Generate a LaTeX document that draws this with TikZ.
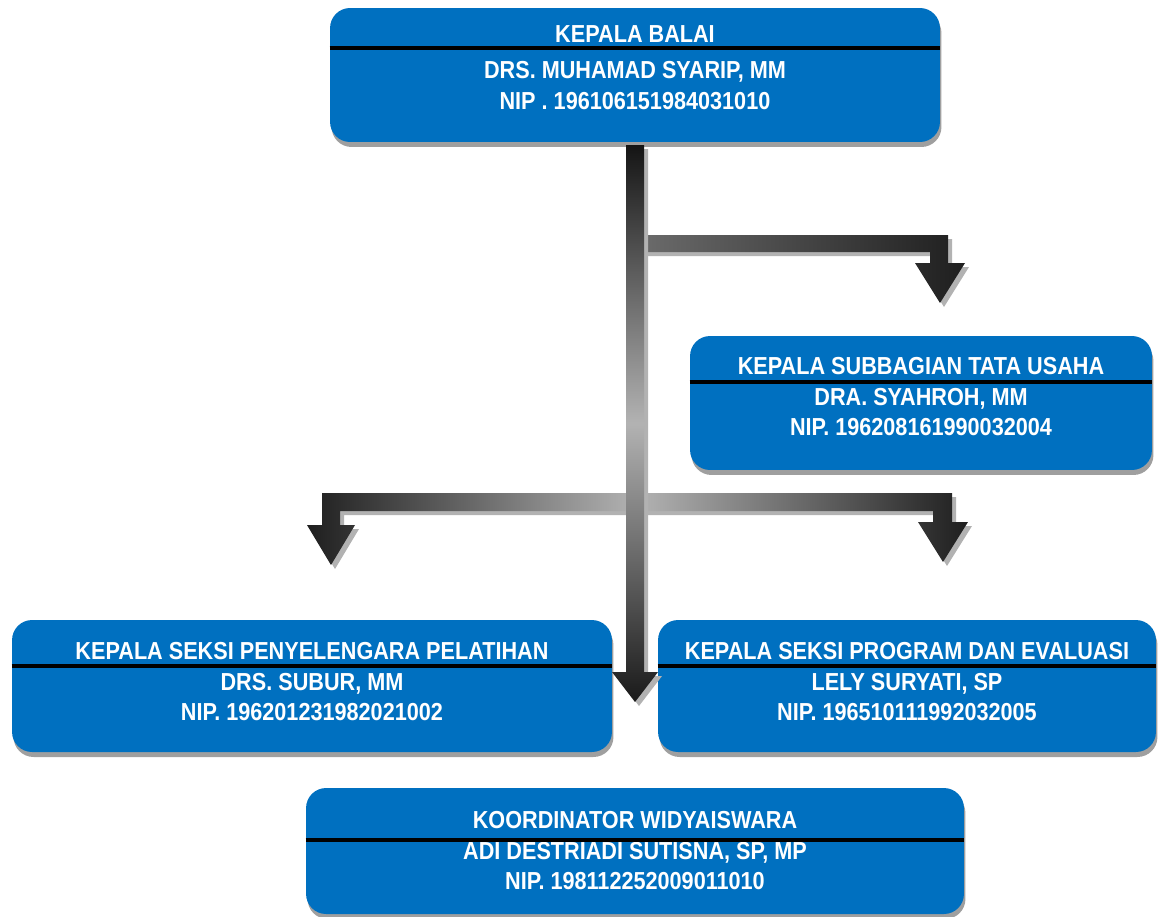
\documentclass[tikz,border=0pt]{standalone}
\usepackage{fontspec}
\newfontfamily\orgfont[FakeStretch=0.88]{Liberation Sans}
\usetikzlibrary{positioning}
\usetikzlibrary{shadows}
\definecolor{balaiblue}{RGB}{0,112,192}
\tikzset{auto, >=latex, font=\orgfont\bfseries\fontsize{14}{17.5}\selectfont}
\tikzstyle{unit} = [draw=none, fill=balaiblue, rectangle, rounded corners=0.4cm, drop shadow={shadow xshift=0.03cm, shadow yshift=-0.1cm, fill=gray!75, opacity=1}]
\tikzstyle{unittext} = [text=white, align=center, inner sep=0pt]
\tikzstyle{headrule} = [line width=2.2pt, black]
\tikzstyle{bar} = [drop shadow={shadow xshift=0.08cm, shadow yshift=-0.08cm, fill=gray!60, opacity=1}]

\begin{document}
\begin{tikzpicture}[x=0.02cm, y=-0.02cm]
		\useasboundingbox (0,0) rectangle (1158,916);

		% boxes
		\node [unit, minimum width=12.2cm, minimum height=2.68cm] (kb) at (635,75) {};
		\node [unit, minimum width=9.24cm, minimum height=2.68cm] (tu) at (921,403) {};
		\node [unit, minimum width=12cm, minimum height=2.64cm] (spp) at (312,686) {};
		\node [unit, minimum width=9.96cm, minimum height=2.64cm] (pe) at (907,686) {};
		\node [unit, minimum width=13.16cm, minimum height=2.52cm] (kw) at (635,851) {};

		\node [unittext] (kb-text) at ([yshift=-1.2cm]kb.north) {KEPALA BALAI\\[3pt]DRS. MUHAMAD SYARIP, MM\\NIP . 196106151984031010};
		\node [unittext] (tu-text) at ([yshift=-1.22cm]tu.north) {KEPALA SUBBAGIAN TATA USAHA\\DRA. SYAHROH, MM\\NIP. 196208161990032004};
		\node [unittext] (spp-text) at ([yshift=-1.24cm]spp.north) {KEPALA SEKSI PENYELENGARA PELATIHAN\\DRS. SUBUR, MM\\NIP. 196201231982021002};
		\node [unittext] (pe-text) at ([yshift=-1.24cm]pe.north) {KEPALA SEKSI PROGRAM DAN EVALUASI\\LELY SURYATI, SP\\NIP. 196510111992032005};
		\node [unittext] (kw-text) at ([yshift=-1.26cm]kw.north) {KOORDINATOR WIDYAISWARA\\ADI DESTRIADI SUTISNA, SP, MP\\NIP. 198112252009011010};

		\draw [headrule] ([yshift=-0.8cm]kb.north west) -- ([yshift=-0.8cm]kb.north east);
		\draw [headrule] ([yshift=-0.92cm]tu.north west) -- ([yshift=-0.92cm]tu.north east);
		\draw [headrule] ([yshift=-0.92cm]spp.north west) -- ([yshift=-0.92cm]spp.north east);
		\draw [headrule] ([yshift=-0.92cm]pe.north west) -- ([yshift=-0.92cm]pe.north east);
		\draw [headrule] ([yshift=-1.04cm]kw.north west) -- ([yshift=-1.04cm]kw.north east);

		% arrows
		\shade [bar, left color=black!58, right color=black!88] (640,235) -- (948,235) -- (948,263) -- (965,263) -- (940,303) -- (915,263) -- (930,263) -- (930,252) -- (640,252) -- cycle;
		\shade [bar, left color=black!88, right color=black!88, middle color=black!30] (322,525) -- (322,493) -- (952,493) -- (952,522) -- (968,522) -- (943,562) -- (918,522) -- (933,522) -- (933,511) -- (340,511) -- (340,525) -- (355,525) -- (331,565) -- (307,525) -- cycle;
		\shade [bar, top color=black!92, bottom color=black!90, middle color=black!30] (626,145) -- (626,672) -- (612,672) -- (635,702) -- (658,672) -- (644,672) -- (644,145) -- cycle;
	\end{tikzpicture}
\end{document}
